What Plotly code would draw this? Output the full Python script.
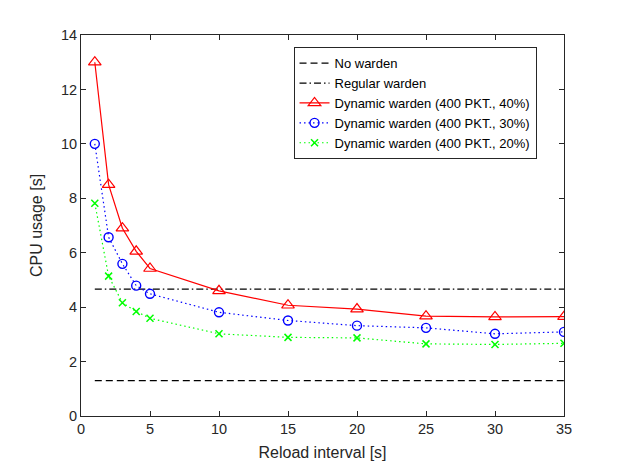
import plotly.graph_objects as go

reload_interval = [1, 2, 3, 4, 5, 10, 15, 20, 25, 30, 35]
dyn_40 = [13.0, 8.5, 6.9, 6.05, 5.42, 4.6, 4.07, 3.93, 3.67, 3.64, 3.65]
dyn_30 = [10.0, 6.57, 5.59, 4.79, 4.49, 3.81, 3.51, 3.32, 3.24, 3.02, 3.09]
dyn_20 = [7.82, 5.14, 4.16, 3.84, 3.59, 3.02, 2.89, 2.87, 2.65, 2.63, 2.67]
no_warden = 1.30
regular_warden = 4.66
line_x = [1, 35]

fig = go.Figure()
fig.add_trace(go.Scatter(x=line_x, y=[no_warden] * 2, mode="lines", name="No warden",
                         line=dict(color="black", width=1.2, dash="7px,4px")))
fig.add_trace(go.Scatter(x=line_x, y=[regular_warden] * 2, mode="lines", name="Regular warden",
                         line=dict(color="black", width=1.2, dash="7px,3px,1.5px,3px")))
fig.add_trace(go.Scatter(x=reload_interval, y=dyn_40, mode="lines+markers",
                         name="Dynamic warden (400 PKT., 40%)",
                         line=dict(color="#FF0000", width=1.2),
                         marker=dict(symbol="triangle-up-open", size=11, color="#FF0000",
                                     line=dict(width=1.2))))
fig.add_trace(go.Scatter(x=reload_interval, y=dyn_30, mode="lines+markers",
                         name="Dynamic warden (400 PKT., 30%)",
                         line=dict(color="#0000FF", width=1.2, dash="1.5px,3px"),
                         marker=dict(symbol="circle-open", size=9, color="#0000FF",
                                     line=dict(width=1.4))))
fig.add_trace(go.Scatter(x=reload_interval, y=dyn_20, mode="lines+markers",
                         name="Dynamic warden (400 PKT., 20%)",
                         line=dict(color="#00FF00", width=1.2, dash="1.5px,3px"),
                         marker=dict(symbol="x-thin-open", size=7, color="#00FF00",
                                     line=dict(width=1.5, color="#00FF00"))))

axis_common = dict(showline=True, linecolor="#262626", linewidth=1, mirror="ticks",
                   ticks="inside", ticklen=5, tickcolor="#262626", showgrid=False,
                   zeroline=False, tickfont=dict(size=14.5, color="#262626"))
fig.update_layout(
    width=623, height=467,
    margin=dict(l=73, r=67, t=27, b=59),
    paper_bgcolor="white", plot_bgcolor="white",
    font=dict(family="Liberation Sans, Arial, sans-serif", color="#262626"),
    xaxis=dict(range=[0, 35], tickvals=[0, 5, 10, 15, 20, 25, 30, 35],
               title=dict(text="Reload interval [s]", font=dict(size=16), standoff=10),
               **axis_common),
    yaxis=dict(range=[0, 14], tickvals=[0, 2, 4, 6, 8, 10, 12, 14],
               title=dict(text="CPU usage [s]", font=dict(size=16), standoff=14),
               **axis_common),
    legend=dict(x=0.44, y=0.968, xanchor="left", yanchor="top",
                bgcolor="white", bordercolor="#262626", borderwidth=1,
                font=dict(size=13, color="black"), tracegroupgap=0, itemwidth=30),
    showlegend=True,
)
fig.write_html("out.html")
